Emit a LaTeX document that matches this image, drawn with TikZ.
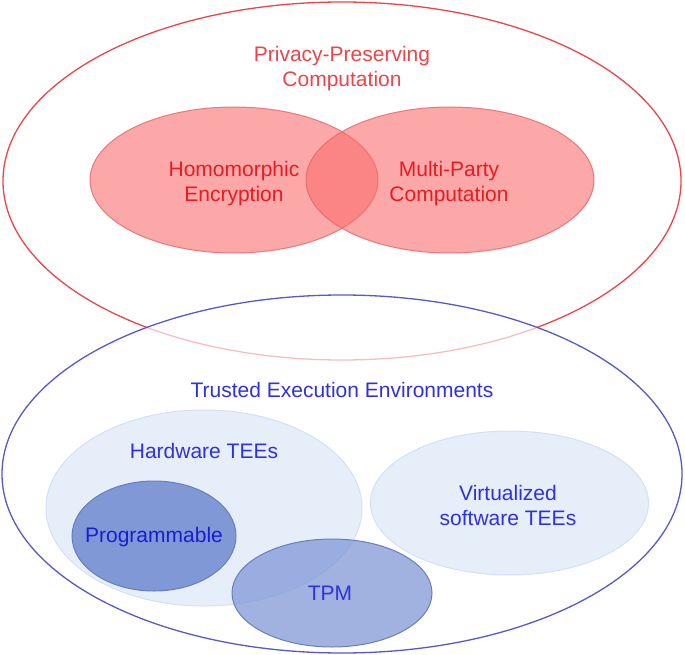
\documentclass[tikz,border=0pt]{standalone}
\usepackage{fontspec}
\setmainfont{Liberation Sans}
\usetikzlibrary{shapes.geometric}
\definecolor{redline}{RGB}{232,70,74}
\definecolor{redtext}{RGB}{228,28,36}
\definecolor{redfill}{RGB}{250,110,110}
\definecolor{redborder}{RGB}{228,100,104}
\definecolor{blueline}{RGB}{88,88,200}
\definecolor{bluetext}{RGB}{48,48,225}
\definecolor{progtext}{RGB}{28,28,215}
\definecolor{lightfill}{RGB}{230,238,250}
\definecolor{lightborder}{RGB}{212,224,244}
\definecolor{progfill}{RGB}{128,152,214}
\definecolor{progborder}{RGB}{104,126,188}
\definecolor{tpmfill}{RGB}{125,149,214}
\tikzset{
  lbl/.style={font=\fontsize{21}{25}\selectfont, align=center, inner sep=0pt},
  redlbl/.style={lbl, text=redtext},
  bluelbl/.style={lbl, text=bluetext},
}
\begin{document}
\begin{tikzpicture}[x=1pt,y=-1pt]
\useasboundingbox (0,0) rectangle (685,655);
% outer red
\draw[redline, line width=1.3pt] (342,181) ellipse [x radius=339, y radius=179];
% HE and MPC
\draw[redborder, line width=1pt, fill=redfill, fill opacity=0.6, draw opacity=0.8] (234,180) ellipse [x radius=144, y radius=73];
\draw[redborder, line width=1pt, fill=redfill, fill opacity=0.6, draw opacity=0.8] (450,180) ellipse [x radius=144, y radius=73];
% outer blue
\draw[blueline, line width=1.3pt, fill=white, fill opacity=0.65] (342,474) ellipse [x radius=340, y radius=179];
% hardware and virtualized
\draw[lightborder, line width=1pt, fill=lightfill] (204,508) ellipse [x radius=158, y radius=98];
\draw[lightborder, line width=1pt, fill=lightfill] (509.5,503) ellipse [x radius=139, y radius=72];
% programmable
\draw[progborder, line width=1pt, fill=progfill] (154,536) ellipse [x radius=82, y radius=55];
% TPM
\draw[progborder, line width=1pt, fill=tpmfill, fill opacity=0.72] (332,593) ellipse [x radius=100, y radius=54];
% labels
\node[redlbl, text=redline] (ppc) at (342,69) {Privacy-Preserving\\Computation};
\node[redlbl] (he) at (234,184) {Homomorphic\\Encryption};
\node[redlbl] (mpc) at (449,184) {Multi-Party\\Computation};
\node[bluelbl] (tee) at (342,390) {Trusted Execution Environments};
\node[bluelbl] (hw) at (204,451) {Hardware TEEs};
\node[bluelbl] (vs) at (508,505) {Virtualized\\software TEEs};
\node[bluelbl, text=progtext] (prog) at (154,537) {Programmable};
\node[bluelbl] (tpm) at (330,593) {TPM};
\end{tikzpicture}
\end{document}
